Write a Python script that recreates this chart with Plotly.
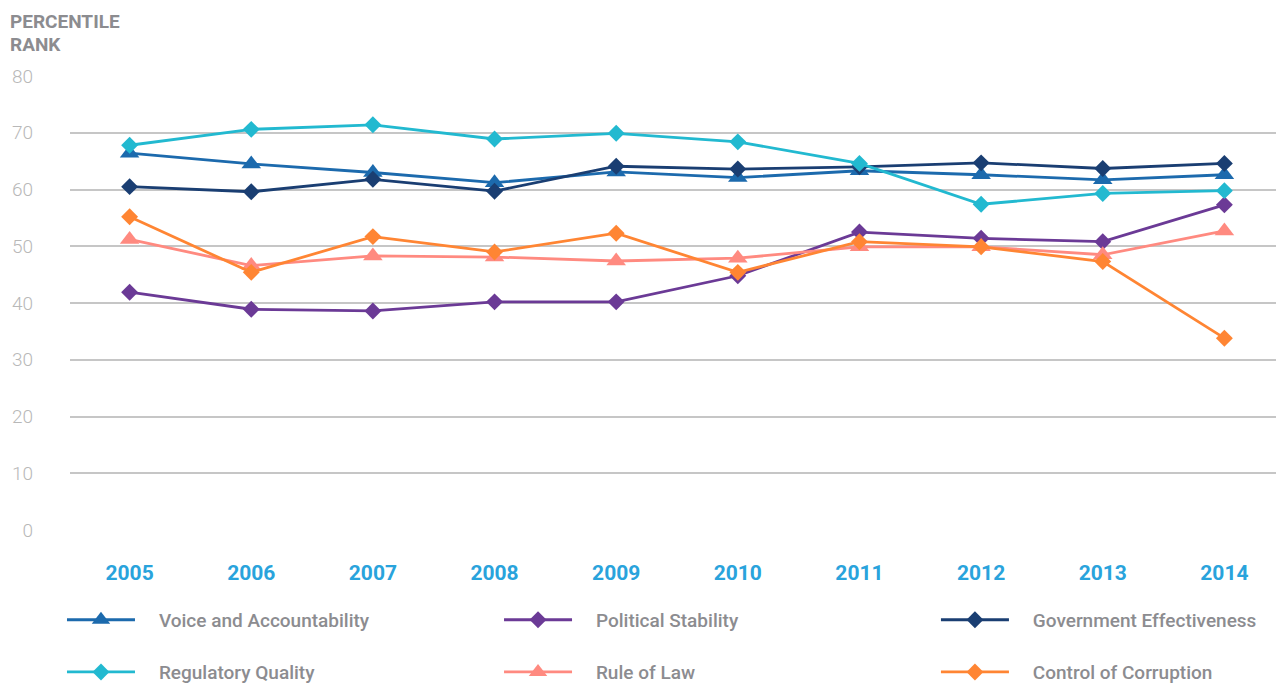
import plotly.graph_objects as go

years = ["2005", "2006", "2007", "2008", "2009", "2010", "2011", "2012", "2013", "2014"]

voice_accountability = [66.4, 64.5, 63.0, 61.2, 63.1, 62.1, 63.3, 62.6, 61.7, 62.6]
political_stability = [41.9, 38.9, 38.6, 40.2, 40.2, 44.8, 52.5, 51.4, 50.8, 57.3]
government_effectiveness = [60.5, 59.6, 61.8, 59.7, 64.1, 63.6, 64.0, 64.7, 63.7, 64.6]
regulatory_quality = [67.8, 70.6, 71.4, 68.9, 69.9, 68.4, 64.6, 57.4, 59.3, 59.8]
rule_of_law = [51.2, 46.6, 48.3, 48.1, 47.4, 47.9, 49.9, 49.9, 48.5, 52.7]
control_of_corruption = [55.2, 45.4, 51.7, 49.0, 52.3, 45.4, 50.8, 49.9, 47.3, 33.8]

series = [
    ("Voice and Accountability", voice_accountability, "#1c6aad", "triangle-up"),
    ("Political Stability", political_stability, "#6b3a96", "diamond"),
    ("Government Effectiveness", government_effectiveness, "#1a3e72", "diamond"),
    ("Regulatory Quality", regulatory_quality, "#22b9d0", "diamond"),
    ("Rule of Law", rule_of_law, "#ff8a80", "triangle-up"),
    ("Control of Corruption", control_of_corruption, "#ff8533", "diamond"),
]

# legend slots: (column x in paper, row y in paper)
legend_cols = [-0.0066, 0.3534, 0.7133]
legend_rows = [-0.198, -0.313]

fig = go.Figure()
legend_layouts = {}
for i, (name, vals, color, symbol) in enumerate(series):
    lg = "legend" if i == 0 else f"legend{i + 1}"
    fig.add_trace(go.Scatter(
        x=years, y=vals, name="\u00a0\u00a0\u00a0\u00a0" + name, mode="lines+markers",
        line=dict(color=color, width=2.8),
        marker=dict(symbol=symbol, size=13 if symbol == "diamond" else 17, color=color),
        legend=lg, cliponaxis=False,
    ))
    legend_layouts[lg] = dict(
        x=legend_cols[i % 3], y=legend_rows[i // 3],
        orientation="h", xanchor="left", yanchor="middle",
        font=dict(family="Roboto", size=19, color="#8c8c90", weight=500),
        bgcolor="rgba(0,0,0,0)", itemwidth=68,
    )

title_font = dict(family="Roboto", size=19, color="#8c8c90", weight="bold")

# the page body has an 8px margin, so the figure is 8px smaller on each axis
fig.update_layout(
    width=1276, height=676,
    margin=dict(l=62, r=0, t=68, b=154, autoexpand=False),
    paper_bgcolor="white", plot_bgcolor="white",
    showlegend=True,
    xaxis=dict(
        type="category", range=[-0.49, 9.49], showgrid=False, zeroline=False,
        showline=False, ticks="", ticklabelstandoff=28,
        tickfont=dict(family="Roboto", size=21, color="#29a3dc", weight="bold"),
    ),
    yaxis=dict(
        range=[0, 80], dtick=10, showgrid=True, gridcolor="#c6c6c6", gridwidth=2,
        zeroline=False, showline=False, ticks="", ticklabelstandoff=36,
        tickfont=dict(family="Roboto", size=19, color="#b8b8b8", weight=300),
    ),
    annotations=[
        dict(text="PERCENTILE", xref="paper", yref="paper",
             x=-0.051, y=1.1487, xanchor="left", yanchor="top", showarrow=False,
             font=title_font),
        dict(text="RANK", xref="paper", yref="paper",
             x=-0.051, y=1.0991, xanchor="left", yanchor="top", showarrow=False,
             font=title_font),
    ],
    **legend_layouts,
)

fig.write_html("out.html")
